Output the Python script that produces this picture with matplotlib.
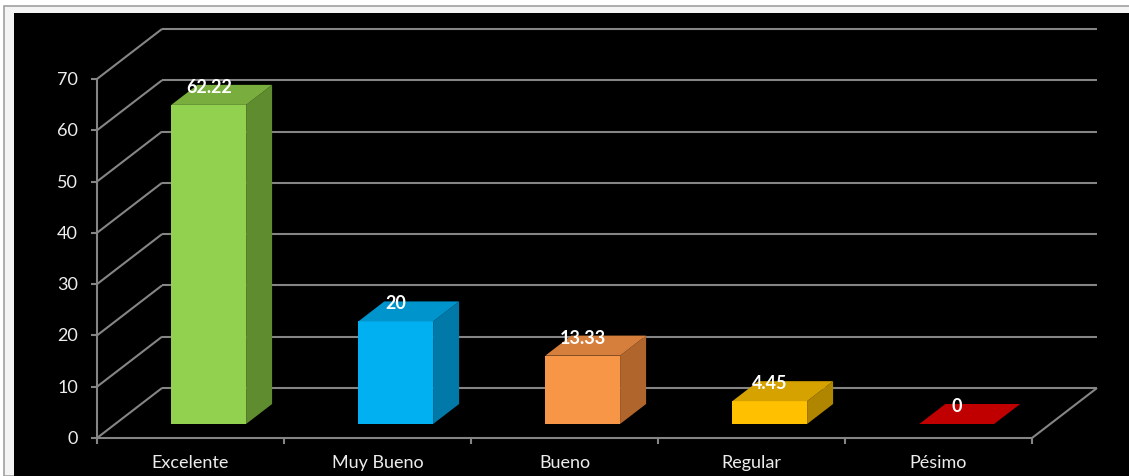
import matplotlib
matplotlib.use("Agg")
import matplotlib.pyplot as plt
from matplotlib.patches import Polygon, Rectangle

# Survey results (percent)
categories = ["Excelente", "Muy Bueno", "Bueno", "Regular", "Pésimo"]
values = [62.22, 20, 13.33, 4.45, 0]
labels = ["62.22", "20", "13.33", "4.45", "0"]
y_ticks = [0, 10, 20, 30, 40, 50, 60, 70]

front_colors = ["#92D050", "#00B0F0", "#F79646", "#FFC000", "#C00000"]
top_colors = ["#79AE3E", "#0094CC", "#D67E3C", "#D6A200", "#D00000"]
side_colors = ["#5F8C2E", "#0079A8", "#B0652C", "#B08500", "#A00000"]

W, H = 1129, 477
DPI = 100
fig = plt.figure(figsize=(W / DPI, H / DPI), dpi=DPI, facecolor="white")

# Outer frame and black chart area (figure pixel coordinates)
fig.patches.append(Rectangle((4 / W, 0), 1.0, 1 - 7 / H, transform=fig.transFigure,
                             facecolor="#F4F4F4", edgecolor="#A0A0A0", lw=1.2, zorder=-2))
fig.patches.append(Rectangle((14 / W, 0), 1.0, 1 - 14 / H, transform=fig.transFigure,
                             facecolor="black", edgecolor="none", zorder=-1))

ax = fig.add_axes([0, 0, 1, 1])
ax.set_facecolor("none")
ax.axis("off")

# Data-space layout: category index on x, value on y
X0_PX, CAT_PX = 97, 187.0
Y0_PX, UNIT_PX = 439, 5.129
ax.set_xlim(-0.5 - X0_PX / CAT_PX, -0.5 + (W - X0_PX) / CAT_PX)
ax.set_ylim((Y0_PX - H) / UNIT_PX, Y0_PX / UNIT_PX)

# Depth direction of the oblique projection (in data units for full depth)
DX = 65 / CAT_PX
DV = 50 / UNIT_PX


def proj(x, v, d):
    return (x + d * DX, v + d * DV)


n = len(categories)
xmin, xmax = -0.5, n - 0.5
vmax = y_ticks[-1]
grid_kw = dict(color="#858585", lw=1.5, solid_capstyle="butt", zorder=1)
text_color = "#EDEDED"

# Back wall gridlines and left wall diagonals
for t in y_ticks:
    p0, p1 = proj(xmin, t, 1), proj(xmax, t, 1)
    ax.plot([p0[0], p1[0]], [p0[1], p1[1]], **grid_kw)
    p0, p1 = proj(xmin, t, 0), proj(xmin, t, 1)
    ax.plot([p0[0], p1[0]], [p0[1], p1[1]], **grid_kw)

# Floor front edge and right diagonal
p0, p1 = proj(xmin, 0, 0), proj(xmax, 0, 0)
ax.plot([p0[0], p1[0]], [p0[1], p1[1]], **grid_kw)
p0, p1 = proj(xmax, 0, 0), proj(xmax, 0, 1)
ax.plot([p0[0], p1[0]], [p0[1], p1[1]], **grid_kw)

# Value axis line with ticks
ax.plot([xmin, xmin], [0, vmax], **grid_kw)
tick_dx = 6 / CAT_PX
tick_dv = 6 / UNIT_PX
for t in y_ticks:
    ax.plot([xmin - tick_dx, xmin], [t, t], **grid_kw)
    ax.text(xmin - 19 / CAT_PX, t, str(t), ha="right", va="center",
            color=text_color, fontsize=13, family="Lato")

# Category ticks and labels
for k in range(n + 1):
    ax.plot([xmin + k, xmin + k], [0, -tick_dv], **grid_kw)
for i, c in enumerate(categories):
    ax.text(i, -24 / UNIT_PX, c, ha="center", va="center",
            color=text_color, fontsize=13, family="Lato")

# 3D bars
d0, d1 = 0.28, 0.68
half_w = 0.20
for i, v in enumerate(values):
    xl, xr = i - half_w, i + half_w
    if v > 0:
        front = [proj(xl, 0, d0), proj(xr, 0, d0), proj(xr, v, d0), proj(xl, v, d0)]
        side = [proj(xr, 0, d0), proj(xr, 0, d1), proj(xr, v, d1), proj(xr, v, d0)]
        ax.add_patch(Polygon(front, closed=True, facecolor=front_colors[i],
                             edgecolor="none", zorder=3))
        ax.add_patch(Polygon(side, closed=True, facecolor=side_colors[i],
                             edgecolor="none", zorder=3))
    top = [proj(xl, v, d0), proj(xr, v, d0), proj(xr, v, d1), proj(xl, v, d1)]
    ax.add_patch(Polygon(top, closed=True,
                         facecolor=top_colors[i] if v > 0 else front_colors[i],
                         edgecolor="none", zorder=3))
    lx, ly = proj(i, v, d1)
    ax.text(i + d0 * DX, ly - 0.3, labels[i], ha="center", va="center",
            color="white", fontsize=13, fontweight="bold", family="Lato", zorder=5)

fig.savefig("out.png", dpi=DPI, facecolor=fig.get_facecolor())
